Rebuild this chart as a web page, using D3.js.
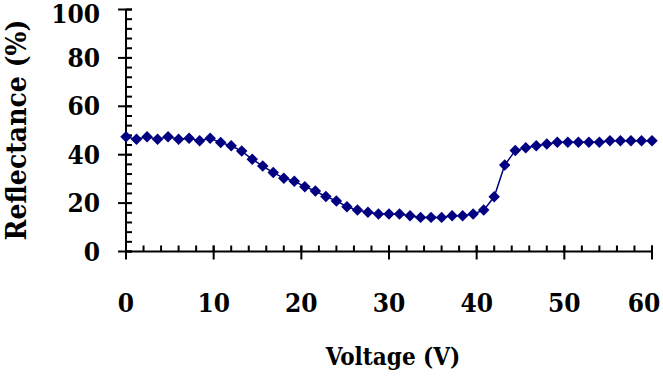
<!DOCTYPE html>
<html>
<head>
<meta charset="utf-8">
<script src="https://cdn.jsdelivr.net/npm/d3@7"></script>
<style>
body { margin: 0; background: #fff; }
</style>
</head>
<body>
<svg width="663" height="381"></svg>
<script>
// data
var voltage = [0, 1.2, 2.4, 3.6, 4.8, 6, 7.2, 8.4, 9.6, 10.8,
    12, 13.2, 14.4, 15.6, 16.8, 18, 19.2, 20.4, 21.6, 22.8,
    24, 25.2, 26.4, 27.6, 28.8, 30, 31.2, 32.4, 33.6, 34.8,
    36, 37.2, 38.4, 39.6, 40.8, 42, 43.2, 44.4, 45.6, 46.8,
    48, 49.2, 50.4, 51.6, 52.8, 54, 55.2, 56.4, 57.6, 58.8, 60];
var reflectance = [47.4, 46.4, 47.4, 46.4, 47.4, 46.4, 46.8, 45.8, 46.8, 45.0,
    43.7, 41.5, 38.1, 35.3, 32.6, 30.3, 29.0, 26.8, 25.0, 22.7,
    20.9, 18.5, 17.1, 16.2, 15.5, 15.5, 15.5, 14.8, 14.1, 14.1,
    14.1, 14.8, 14.8, 15.5, 17.1, 22.6, 35.7, 41.7, 42.9, 43.7,
    44.4, 45.1, 45.1, 45.1, 45.1, 45.1, 45.8, 45.8, 45.8, 45.8, 45.8];
var xTicks = [0, 10, 20, 30, 40, 50, 60];
var yTicks = [0, 20, 40, 60, 80, 100];

var svg = d3.select('svg');
var navy = '#000080';
var serif = '"DejaVu Serif Condensed", "DejaVu Serif", serif';

var xScale = d3.scaleLinear().domain([0, 60]).range([126, 652]);
var yScale = d3.scaleLinear().domain([0, 100]).range([251.5, 9.5]);

// minor ticks (inside the plot)
var xMinor = d3.range(0, 60.01, 2);
var yMinor = d3.range(0, 100.01, 4);

var axes = svg.append('g')
    .attr('stroke', '#000')
    .attr('stroke-width', 2);

axes.append('line')
    .attr('x1', xScale(0)).attr('x2', xScale(0))
    .attr('y1', yScale(100)).attr('y2', yScale(0));
axes.append('line')
    .attr('x1', xScale(0)).attr('x2', xScale(60))
    .attr('y1', yScale(0)).attr('y2', yScale(0));

axes.selectAll('.xminor').data(xMinor).enter()
    .append('line')
    .attr('x1', d => xScale(d)).attr('x2', d => xScale(d))
    .attr('y1', yScale(0)).attr('y2', yScale(0) - 6);
axes.selectAll('.yminor').data(yMinor).enter()
    .append('line')
    .attr('y1', d => yScale(d)).attr('y2', d => yScale(d))
    .attr('x1', xScale(0)).attr('x2', xScale(0) + 6);

// major ticks cross the axis
axes.selectAll('.xmajor').data(xTicks).enter()
    .append('line')
    .attr('x1', d => xScale(d)).attr('x2', d => xScale(d))
    .attr('y1', yScale(0) - 6).attr('y2', yScale(0) + 8);
axes.selectAll('.ymajor').data(yTicks).enter()
    .append('line')
    .attr('y1', d => yScale(d)).attr('y2', d => yScale(d))
    .attr('x1', xScale(0) - 8).attr('x2', xScale(0) + 6);

function label(sel, size) {
    return sel.style('font-family', serif)
        .style('font-weight', 'bold')
        .style('font-stretch', 'condensed')
        .style('font-size', size + 'px')
        .attr('fill', '#000');
}

// tick labels
svg.selectAll('.xlab').data(xTicks).enter()
    .append('text')
    .attr('x', d => Math.min(xScale(d), 644))
    .attr('y', 312)
    .attr('text-anchor', 'middle')
    .call(label, 26)
    .text(d => d);

svg.selectAll('.ylab').data(yTicks).enter()
    .append('text')
    .attr('x', 100)
    .attr('y', d => Math.max(yScale(d), 14))
    .attr('dy', '0.35em')
    .attr('text-anchor', 'end')
    .call(label, 26)
    .text(d => d);

// axis titles
svg.append('text')
    .attr('x', 393)
    .attr('y', 365)
    .attr('text-anchor', 'middle')
    .call(label, 24)
    .text('Voltage (V)');

svg.append('text')
    .attr('transform', 'translate(26,130) rotate(-90)')
    .attr('text-anchor', 'middle')
    .call(label, 28)
    .text('Reflectance (%)');

// series
var points = voltage.map((v, i) => [v, reflectance[i]]);

svg.append('path')
    .datum(points)
    .attr('fill', 'none')
    .attr('stroke', navy)
    .attr('stroke-width', 1.5)
    .attr('d', d3.line().x(d => xScale(d[0])).y(d => yScale(d[1])));

var marker = d3.symbol().type(d3.symbolSquare).size(66);
svg.selectAll('.pt').data(points).enter()
    .append('path')
    .attr('fill', navy)
    .attr('transform', d => 'translate(' + xScale(d[0]) + ',' + yScale(d[1]) + ') rotate(45)')
    .attr('d', marker);
</script>
</body>
</html>
